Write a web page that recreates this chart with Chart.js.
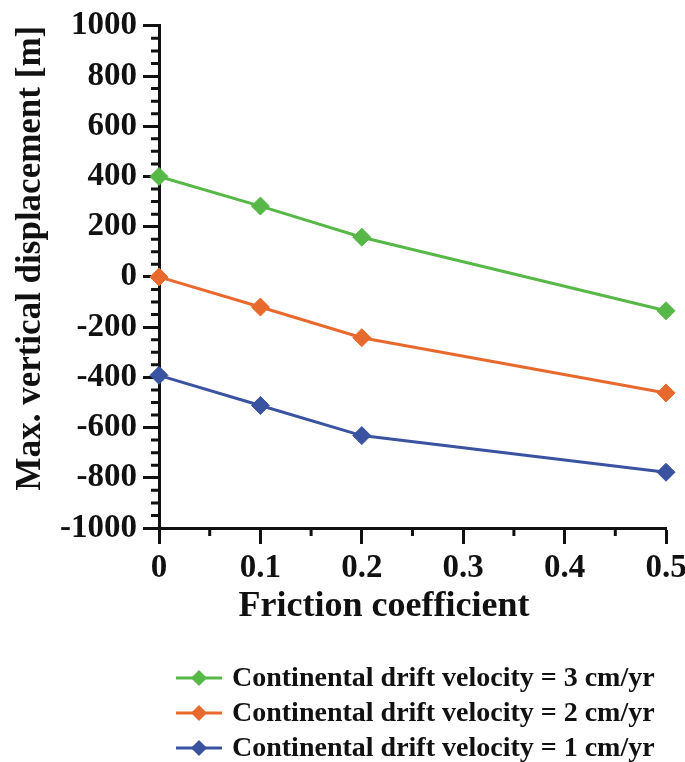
<!DOCTYPE html>
<html lang="en">
<head>
  <meta charset="UTF-8">
  <title>Max. vertical displacement vs friction coefficient</title>
  <style>
    body {
      margin: 0;
      background: #fff;
    }
    #wrap {
      width: 685px;
      height: 762px;
    }
  </style>
  <script src="https://cdn.jsdelivr.net/npm/chart.js"></script>
</head>
<body>
  <div id="wrap"><canvas id="chart"></canvas></div>

  <script>
    // Friction coefficients that were modelled
    const friction = [0, 0.1, 0.2, 0.5];

    // Max. vertical displacement [m] per drift velocity
    const drift3 = [400, 282, 158, -135];
    const drift2 = [0, -120, -242, -462];
    const drift1 = [-392, -512, -632, -778];

    const seriesLabels = [
      'Continental drift velocity = 3 cm/yr',
      'Continental drift velocity = 2 cm/yr',
      'Continental drift velocity = 1 cm/yr'
    ];
    const seriesColors = ['#58b847', '#e8692d', '#3a53a1'];

    // Axis ranges and steps
    const xMin = 0, xMax = 0.5, xStep = 0.1, xMinorStep = 0.05;
    const yMin = -1000, yMax = 1000, yStep = 200, yMinorStep = 50;
    const xTitle = 'Friction coefficient';
    const yTitle = 'Max. vertical displacement [m]';

    const FONT = '"Liberation Serif", "Times New Roman", serif';
    const INK = '#111';

    const toPoints = (ys) => ys.map((y, i) => ({ x: friction[i], y }));

    // short ticks between the labelled ones
    const minorTicks = {
      id: 'minorTicks',
      afterDraw(chart) {
        const { ctx, chartArea, scales } = chart;
        ctx.save();
        ctx.strokeStyle = INK;
        ctx.lineWidth = 3;
        ctx.beginPath();
        for (let v = yMin + yMinorStep; v < yMax; v += yMinorStep) {
          if (Math.abs(v % yStep) < 1e-6) continue;
          const py = scales.y.getPixelForValue(v);
          ctx.moveTo(chartArea.left - 8, py);
          ctx.lineTo(chartArea.left, py);
        }
        for (let v = xMin + xMinorStep; v < xMax; v += xStep) {
          const px = scales.x.getPixelForValue(v);
          ctx.moveTo(px, chartArea.bottom);
          ctx.lineTo(px, chartArea.bottom + 8);
        }
        ctx.stroke();
        ctx.restore();
      }
    };

    // x title sits a little left of the plot centre
    const xAxisTitle = {
      id: 'xAxisTitle',
      afterDraw(chart, args, opts) {
        const { ctx } = chart;
        ctx.save();
        ctx.font = 'bold ' + opts.size + 'px ' + FONT;
        ctx.fillStyle = INK;
        ctx.textAlign = 'center';
        ctx.textBaseline = 'alphabetic';
        ctx.fillText(xTitle, opts.x, opts.y);
        ctx.restore();
      }
    };

    // stacked legend under the axis title: line + diamond + label
    const stackedLegend = {
      id: 'stackedLegend',
      afterDraw(chart, args, opts) {
        const { ctx } = chart;
        ctx.save();
        ctx.font = 'bold ' + opts.size + 'px ' + FONT;
        ctx.textBaseline = 'middle';
        chart.data.datasets.forEach((ds, i) => {
          const y = opts.top + i * opts.gap;
          const mid = (opts.lineStart + opts.lineEnd) / 2;
          ctx.strokeStyle = ds.borderColor;
          ctx.lineWidth = 3;
          ctx.beginPath();
          ctx.moveTo(opts.lineStart, y);
          ctx.lineTo(opts.lineEnd, y);
          ctx.stroke();
          ctx.fillStyle = ds.borderColor;
          ctx.beginPath();
          ctx.moveTo(mid, y - 8);
          ctx.lineTo(mid + 8, y);
          ctx.lineTo(mid, y + 8);
          ctx.lineTo(mid - 8, y);
          ctx.closePath();
          ctx.fill();
          ctx.fillStyle = INK;
          ctx.fillText(ds.label, opts.textX, y + 1);
        });
        ctx.restore();
      }
    };

    const makeSet = (label, data, color) => ({
      label,
      data: toPoints(data),
      borderColor: color,
      backgroundColor: color,
      borderWidth: 3,
      pointStyle: 'rectRot',
      pointRadius: 9,
      pointBorderWidth: 1,
      pointBackgroundColor: color,
      pointBorderColor: color,
      tension: 0,
      clip: false
    });

    const tickFont = { family: FONT, size: 33, weight: 'bold' };
    const titleFont = { family: FONT, size: 36, weight: 'bold' };

    new Chart(document.getElementById('chart'), {
      type: 'line',
      data: {
        datasets: [
          makeSet(seriesLabels[0], drift3, seriesColors[0]),
          makeSet(seriesLabels[1], drift2, seriesColors[1]),
          makeSet(seriesLabels[2], drift1, seriesColors[2])
        ]
      },
      options: {
        responsive: true,
        maintainAspectRatio: false,
        animation: false,
        layout: {
          padding: { top: 8, right: 0, left: 10, bottom: 134 }
        },
        plugins: {
          legend: { display: false },
          tooltip: { enabled: false },
          xAxisTitle: { x: 384, y: 616, size: 36 },
          stackedLegend: {
            top: 678, gap: 35, lineStart: 176, lineEnd: 222, textX: 232, size: 28
          }
        },
        scales: {
          x: {
            type: 'linear',
            position: 'bottom',
            min: xMin,
            max: xMax,
            border: { display: true, color: INK, width: 3 },
            grid: {
              drawOnChartArea: false,
              drawTicks: true,
              tickLength: 16,
              tickColor: INK,
              tickWidth: 3
            },
            ticks: {
              stepSize: xStep,
              padding: 5,
              color: INK,
              font: tickFont,
              callback: (v) => String(Math.round(v * 10) / 10)
            },
            title: { display: false },
            afterFit: (scale) => {
              scale.height = 100;
              scale.paddingRight = 19;
            }
          },
          y: {
            min: yMin,
            max: yMax,
            border: { display: true, color: INK, width: 3 },
            grid: {
              drawOnChartArea: false,
              drawTicks: true,
              tickLength: 16,
              tickColor: INK,
              tickWidth: 3
            },
            ticks: {
              stepSize: yStep,
              padding: 6,
              color: INK,
              font: tickFont,
              callback: (v) => String(v)
            },
            title: {
              display: true,
              text: yTitle,
              align: 'end',
              color: INK,
              font: { family: FONT, size: 35, weight: 'bold' },
              padding: { top: 0, bottom: 0 }
            },
            afterFit: (scale) => { scale.width = 149; }
          }
        }
      },
      plugins: [minorTicks, xAxisTitle, stackedLegend]
    });
  </script>
</body>
</html>
